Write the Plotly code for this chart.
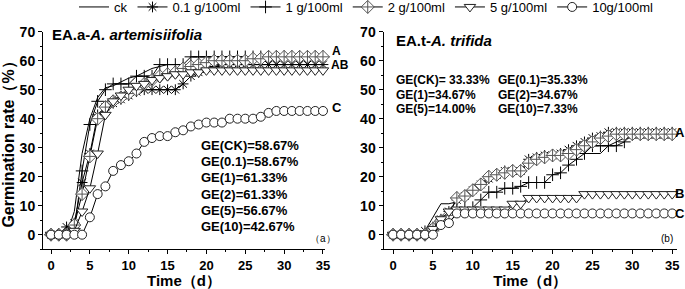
import plotly.graph_objects as go

W, H = 685, 289

days = list(range(36))

series_names = ["ck", "0.1 g/100ml", "1 g/100ml", "2 g/100ml", "5 g/100ml", "10g/100ml"]

# Panel (a): A. artemisiifolia
a_ck = [0, 0, 0, 8, 28, 40, 47.33, 50.67, 51.33, 52.67, 54, 54.67, 56, 57.33, 58, 58.67,
        58.67, 58.67, 58.67, 58.67, 58.67, 58.67, 58.67, 58.67, 58.67, 58.67, 58.67, 58.67,
        58.67, 58.67, 58.67, 58.67, 58.67, 58.67, 58.67, 58.67]
a_01 = [0, 0, 2.67, 4, 18, 28, 41.33, 44, 45.33, 46.67, 48, 49.33, 50, 50, 50, 50, 50, 52,
        54.67, 56, 57.33, 58, 58.67, 58.67, 58.67, 58.67, 58.67, 58.67, 58.67, 58.67, 58.67,
        58.67, 58.67, 58.67, 58.67, 58.67]
a_1 = [0, 0, 0, 2, 22, 38, 46, 50, 52, 52, 52, 54.67, 54.67, 54.67, 58.67, 58.67, 58.67,
       58.67, 61.33, 61.33, 61.33, 61.33, 61.33, 61.33, 61.33, 61.33, 61.33, 61.33, 61.33,
       61.33, 61.33, 61.33, 61.33, 61.33, 61.33, 61.33]
a_2 = [0, 0, 0, 3.33, 14, 27, 40, 44, 46, 47.33, 48.67, 50, 52, 53.33, 54.67, 55.33, 56,
       57.33, 58, 58.67, 59.33, 60, 60, 60, 60, 60, 60.67, 60.67, 61.33, 61.33, 61.33, 61.33,
       61.33, 61.33, 61.33, 61.33]
a_5 = [0, 0, 0, 1.33, 8, 16, 28, 41.33, 46, 48, 50, 51.33, 52, 53.33, 54, 54.67, 55.33,
       55.33, 56, 56, 56.67, 56.67, 56.67, 56.67, 56.67, 56.67, 56.67, 56.67, 56.67, 56.67,
       56.67, 56.67, 56.67, 56.67, 56.67, 56.67]
a_10 = [0, 0, 0, 0, 0, 6, 14, 16.67, 22, 24, 25.33, 28, 32, 33.33, 34, 34, 35.33, 36, 37.33,
        38, 38.67, 38.67, 38.67, 40, 40, 40, 40, 40.67, 42, 42.67, 42.67, 42.67, 42.67, 42.67,
        42.67, 42.67]

# Panel (b): A. trifida
b_ck = [0, 0, 0, 0, 1.33, 6, 10.67, 10.67, 11.33, 12.67, 14.67, 16, 18.67, 20, 21.33, 22,
        22, 24.67, 26, 26.67, 27.33, 27.33, 28, 28, 28, 28, 28, 30.67, 32, 33.33, 33.33,
        33.33, 33.33, 33.33, 33.33, 33.33]
b_01 = [0, 0, 0, 0, 1.33, 2.67, 5.33, 8, 12, 13.33, 15.33, 17.33, 19.33, 20.67, 22, 22, 22,
        26, 26.67, 27.33, 27.33, 28, 29.33, 30.67, 32, 33.33, 34, 35.33, 35.33, 35.33, 35.33,
        35.33, 35.33, 35.33, 35.33, 35.33]
b_1 = [0, 0, 0, 0, 0, 1.33, 4, 6.67, 9.33, 9.33, 9.33, 12, 14.67, 14.67, 16, 16, 16.67, 18,
       18, 18, 20.67, 21.33, 24, 26, 28, 30.67, 30.67, 30.67, 30.67, 32, 34.67, 34.67, 34.67,
       34.67, 34.67, 34.67]
b_2 = [0, 0, 0, 0, 0, 2, 4.67, 6.67, 12.67, 13.33, 15.33, 17.33, 20, 20.67, 21.33, 22, 22,
       24.67, 26, 26.67, 27.33, 27.33, 28, 29.33, 30.67, 32, 33.33, 34, 34.67, 34.67, 34.67,
       34.67, 34.67, 34.67, 34.67, 34.67]
b_5 = [0, 0, 0, 0, 0, 2, 5.33, 8, 8.67, 8.67, 8.67, 8.67, 8.67, 8.67, 8.67, 10.67, 10.67,
       12.67, 12.67, 12.67, 12.67, 12.67, 12.67, 12.67, 14, 14, 14, 14, 14, 14, 14, 14, 14,
       14, 14, 14]
b_10 = [0, 0, 0, 0, 0, 0, 3.33, 4, 7.33, 7.33, 7.33, 7.33, 7.33, 7.33, 7.33, 7.33, 7.33,
        7.33, 7.33, 7.33, 7.33, 7.33, 7.33, 7.33, 7.33, 7.33, 7.33, 7.33, 7.33, 7.33, 7.33,
        7.33, 7.33, 7.33, 7.33, 7.33]

ge_a = ["GE(CK)=58.67%", "GE(0.1)=58.67%", "GE(1)=61.33%", "GE(2)=61.33%",
        "GE(5)=56.67%", "GE(10)=42.67%"]
ge_b = ["GE(CK)= 33.33%", "GE(0.1)=35.33%", "GE(1)=34.67%", "GE(2)=34.67%",
        "GE(5)=14.00%", "GE(10)=7.33%"]

x_ticks = [0, 5, 10, 15, 20, 25, 30, 35]
y_ticks = [0, 10, 20, 30, 40, 50, 60, 70]

FONT = "Arial, Liberation Sans, sans-serif"

styles = [
    dict(mode="lines", marker=None),
    dict(mode="lines+markers", marker=dict(symbol="asterisk-open", size=9,
                                           line=dict(color="#333", width=1))),
    dict(mode="lines+markers", marker=dict(symbol="cross-thin-open", size=9,
                                           line=dict(color="black", width=1))),
    dict(mode="lines+markers", marker=dict(symbol="diamond-cross", size=10, color="white",
                                           line=dict(color="#555", width=1))),
    dict(mode="lines+markers", marker=dict(symbol="triangle-down", size=10, color="white",
                                           line=dict(color="#222", width=1))),
    dict(mode="lines+markers", marker=dict(symbol="circle", size=9, color="white",
                                           line=dict(color="#222", width=1))),
]

fig = go.Figure()
for panel, data in ((1, [a_ck, a_01, a_1, a_2, a_5, a_10]),
                    (2, [b_ck, b_01, b_1, b_2, b_5, b_10])):
    for name, ys, st in zip(series_names, data, styles):
        kw = dict(x=days, y=ys, name=name, mode=st["mode"],
                  line=dict(color="black", width=1),
                  showlegend=(panel == 1), legendgroup=name,
                  xaxis="x" if panel == 1 else "x2",
                  yaxis="y" if panel == 1 else "y2",
                  cliponaxis=False)
        if st["marker"] is not None:
            kw["marker"] = st["marker"]
        fig.add_trace(go.Scatter(**kw))


def px(x):
    return x / W


def py(y):
    return 1 - y / H


tickfont = dict(family=FONT, size=14, color="black", weight="bold")
xtickfont = dict(family=FONT, size=13, color="black", weight="bold")
axis_common = dict(showline=True, linecolor="black", linewidth=1, ticks="outside",
                   ticklen=4, tickwidth=1, tickcolor="black", showgrid=False,
                   zeroline=False, automargin=False)

ydom = [py(249.2), py(31.7)]

fig.update_layout(
    width=W, height=H,
    margin=dict(l=0, r=0, t=0, b=0, autoexpand=False),
    paper_bgcolor="white", plot_bgcolor="white",
    font=dict(family=FONT, color="black"),
    xaxis=dict(domain=[px(43), px(325)], range=[-1.03, 35.26], tickvals=x_ticks,
               minor=dict(ticks="outside", ticklen=2, dtick=2.5, tick0=0, tickcolor="black"),
               title=dict(text="<b>Time（d）</b>", font=dict(size=15), standoff=6),
               anchor="y", tickfont=xtickfont, **axis_common),
    yaxis=dict(domain=ydom, range=[-5, 70], tickvals=y_ticks,
               minor=dict(ticks="outside", ticklen=2, dtick=5, tick0=0, tickcolor="black"),
               title=dict(text="<b>Germination rate（%）</b>", font=dict(size=16), standoff=4),
               anchor="x", tickfont=tickfont, **axis_common),
    xaxis2=dict(domain=[px(383.5), px(677)], range=[-1.2, 35.6], tickvals=x_ticks,
                minor=dict(ticks="outside", ticklen=2, dtick=2.5, tick0=0, tickcolor="black"),
                title=dict(text="<b>Time（d）</b>", font=dict(size=15), standoff=6),
                anchor="y2", tickfont=xtickfont, **axis_common),
    yaxis2=dict(domain=ydom, range=[-5, 70], tickvals=y_ticks,
                minor=dict(ticks="outside", ticklen=2, dtick=5, tick0=0, tickcolor="black"),
                anchor="x2", tickfont=tickfont, **axis_common),
    legend=dict(orientation="h", x=px(74), xanchor="left", y=py(7), yanchor="middle",
                font=dict(family=FONT, size=13, color="black"), bgcolor="rgba(0,0,0,0)",
                itemwidth=30, tracegroupgap=0),
)

ann = []


def add(text, x, y, size=13, xanchor="left", bold=True):
    t = f"<b>{text}</b>" if bold else text
    ann.append(dict(text=t, x=px(x), y=py(y), xref="paper", yref="paper",
                    xanchor=xanchor, yanchor="middle", showarrow=False,
                    font=dict(family=FONT, size=size, color="black")))


add("EA.a-<i>A. artemisiifolia</i>", 50, 35, size=15)
add("EA.t-<i>A. trifida</i>", 394, 40, size=15)
for i, t in enumerate(ge_a):
    add(t, 199, 145 + i * 16.35)
add(ge_b[0], 394, 80, size=12)
add(ge_b[1], 496, 80, size=12)
add(ge_b[2], 394, 95, size=12)
add(ge_b[3], 496, 95, size=12)
add(ge_b[4], 394, 109, size=12)
add(ge_b[5], 496, 109, size=12)
add("（a）", 323, 238, size=10, xanchor="center", bold=False)
add("(b)", 667, 238, size=10, xanchor="center", bold=False)
add("A", 330, 50.5, size=12)
add("AB", 329, 65, size=12)
add("C", 330, 108, size=13)
add("A", 673, 132, size=13)
add("B", 673, 193, size=13)
add("C", 673, 213, size=13)
fig.update_layout(annotations=ann)

fig.write_html("out.html", post_script="document.body.style.margin='0';",
               config={"displayModeBar": False})
